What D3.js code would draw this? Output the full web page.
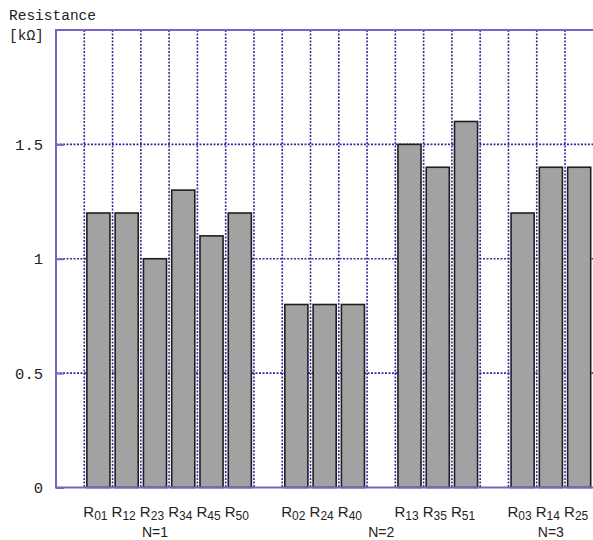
<!DOCTYPE html>
<html>
<head>
<meta charset="utf-8">
<script src="https://cdn.jsdelivr.net/npm/d3@7"></script>
<style>
  body { margin: 0; background: #fff; }
  svg { display: block; }
  .mono { font-family: "Liberation Mono", "DejaVu Sans Mono", monospace; fill: #222; }
  .cat { font-family: "Liberation Sans Narrow", "Liberation Sans", Arial, sans-serif; font-stretch: condensed; fill: #222; }
</style>
</head>
<body>
<svg id="chart" width="593" height="540"></svg>
<script>
// subscripts of R, in drawing order
const categories = ["01", "12", "23", "34", "45", "50", "02", "24", "40", "13", "35", "51", "03", "14", "25"];
const values = [1.2, 1.2, 1.0, 1.3, 1.1, 1.2, 0.8, 0.8, 0.8, 1.5, 1.4, 1.6, 1.2, 1.4, 1.4];
// bars per block, a blank slot comes before each block
const blockSizes = [6, 3, 3, 3];
const yTicks = [0, 0.5, 1, 1.5];
const yTickLabels = ["0", "0.5", "1", "1.5"];
const nLabels = ["N=1", "N=2", "N=3"];
const nAnchors = ["23", "gap2", "14"];

const svg = d3.select("#chart");
const margin = { top: 30, right: 0, bottom: 52, left: 56 };
const width = 593.3;
const height = +svg.attr("height");

// slot keys: gaps + categories
const slots = [];
let ci = 0;
blockSizes.forEach((n, b) => {
  slots.push("gap" + b);
  for (let i = 0; i < n; i++) slots.push(categories[ci++]);
});

const x = d3.scaleBand().domain(slots).range([margin.left, width]).padding(0);
const y = d3.scaleLinear().domain([0, 2]).range([height - margin.bottom - 0.5, margin.top]);

const axisColor = "#7a62c6";
const gridColor = "#3a2a9e";

// horizontal grid
svg.append("g")
  .selectAll("line")
  .data(yTicks.filter(d => d > 0))
  .enter()
  .append("line")
  .attr("x1", margin.left)
  .attr("x2", width)
  .attr("y1", d => y(d))
  .attr("y2", d => y(d))
  .attr("stroke", gridColor)
  .attr("stroke-width", 1.6)
  .attr("stroke-dasharray", "2,1.5");

// vertical grid at slot boundaries
svg.append("g")
  .selectAll("line")
  .data(slots.slice(1))
  .enter()
  .append("line")
  .attr("x1", d => x(d))
  .attr("x2", d => x(d))
  .attr("y1", y(2))
  .attr("y2", y(0))
  .attr("stroke", gridColor)
  .attr("stroke-width", 1.6)
  .attr("stroke-dasharray", "2,1.5");

// bars
const inset = 2.6;
svg.append("g")
  .selectAll("rect")
  .data(categories)
  .enter()
  .append("rect")
  .attr("x", d => x(d) + inset)
  .attr("width", x.bandwidth() - 2 * inset)
  .attr("y", (d, i) => y(values[i]))
  .attr("height", (d, i) => y(0) - y(values[i]))
  .attr("fill", "#a2a2a2")
  .attr("stroke", "#1e1e1e")
  .attr("stroke-width", 1.6);

// frame: left axis, top and bottom lines
svg.append("line")
  .attr("x1", margin.left).attr("x2", margin.left)
  .attr("y1", y(2)).attr("y2", y(0))
  .attr("stroke", axisColor).attr("stroke-width", 2);
svg.append("line")
  .attr("x1", margin.left - 1).attr("x2", width)
  .attr("y1", y(2)).attr("y2", y(2))
  .attr("stroke", axisColor).attr("stroke-width", 2);
svg.append("line")
  .attr("x1", margin.left - 1).attr("x2", width)
  .attr("y1", y(0)).attr("y2", y(0))
  .attr("stroke", axisColor).attr("stroke-width", 2);

// y axis ticks
const yAxis = d3.axisRight(y)
  .tickValues(yTicks)
  .tickSize(8)
  .tickFormat("");
const yAxisG = svg.append("g")
  .attr("transform", `translate(${margin.left}, 0)`)
  .call(yAxis);
yAxisG.select(".domain").remove();
yAxisG.selectAll(".tick line").attr("stroke", axisColor).attr("stroke-width", 2);

svg.append("g")
  .selectAll("text")
  .data(yTicks)
  .enter()
  .append("text")
  .attr("class", "mono")
  .attr("x", 43)
  .attr("y", d => y(d) + 5.5)
  .attr("text-anchor", "end")
  .attr("font-size", 15.5)
  .text((d, i) => yTickLabels[i]);

// axis title
svg.append("text").attr("class", "mono").attr("x", 9).attr("y", 20)
  .attr("font-size", 14.5).text("Resistance");
svg.append("text").attr("class", "mono").attr("x", 9).attr("y", 40)
  .attr("font-size", 14.5).text("[kΩ]");

// category labels R + subscript
const catLabels = svg.append("g")
  .selectAll("text")
  .data(categories)
  .enter()
  .append("text")
  .attr("class", "cat")
  .attr("x", d => x(d) + x.bandwidth() / 2 - 3)
  .attr("y", 517)
  .attr("text-anchor", "middle")
  .attr("font-size", 15);
catLabels.append("tspan").text("R");
catLabels.append("tspan")
  .attr("dy", 3)
  .attr("font-size", 12)
  .text(d => d);

// N labels
svg.append("g")
  .selectAll("text")
  .data(nLabels)
  .enter()
  .append("text")
  .attr("class", "cat")
  .attr("x", (d, i) => x(nAnchors[i]) + x.bandwidth() / 2)
  .attr("y", 537)
  .attr("text-anchor", "middle")
  .attr("font-size", 14)
  .text(d => d);
</script>
</body>
</html>
